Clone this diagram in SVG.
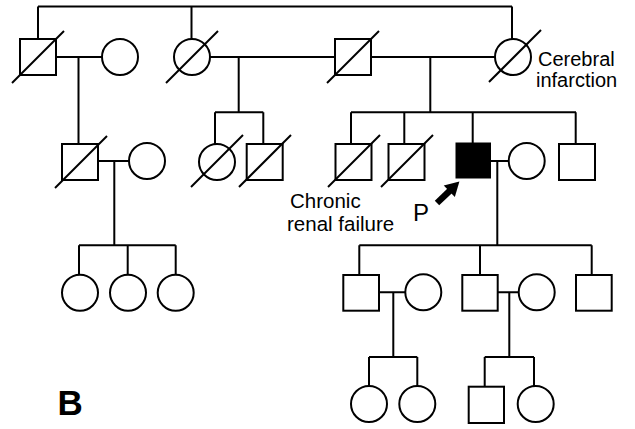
<svg xmlns="http://www.w3.org/2000/svg" width="635" height="429" viewBox="0 0 635 429">
<style>
.s{fill:#fff;stroke:#000;stroke-width:2}
.f{fill:#000;stroke:#000;stroke-width:2}
.l{fill:none;stroke:#000;stroke-width:2}
.t{font-family:"Liberation Sans",Arial,sans-serif;font-size:20.5px;fill:#000}
</style>
<defs>
<path id="dec" d="M-26,26 L26,-26" class="l"/>
</defs>
<g id="connectors">
<path class="l" d="M38,6.5 H512 M38,6.5 V39 M191.5,6.5 V39 M512,6.5 V39"/>
<path class="l" d="M56,57 H102 M78.5,57 V144"/>
<path class="l" d="M210,57 H335 M238.7,57 V112.3 M215,112.3 H263.3 M215,112.3 V144 M263.3,112.3 V144"/>
<path class="l" d="M371,57 H495 M430.3,57 V112.3 M351,112.3 H576 M351,112.3 V144 M404.3,112.3 V144 M472.7,112.3 V143 M575.7,112.3 V144"/>
<path class="l" d="M98,161 H129 M114.3,161 V245.3 M79,245.3 H175.7 M79,245.3 V275 M127.7,245.3 V275 M175.7,245.3 V275"/>
<path class="l" d="M490,161 H509 M497.3,161 V245.3 M359.3,245.3 H591.7 M359.3,245.3 V275 M480,245.3 V275 M591.7,245.3 V275"/>
<path class="l" d="M379,292.3 H405.3 M393.3,292.3 V357 M369,357 H417.3 M369,357 V386 M417.3,357 V386"/>
<path class="l" d="M497.7,292.3 H518.7 M509.3,292.3 V357 M484.7,357 H534 M484.7,357 V386.7 M534,357 V386"/>
</g>
<g id="I1"><rect class="s" x="20" y="39" width="36" height="36"/><use href="#dec" x="38" y="57"/></g>
<g id="I2"><circle class="s" cx="120" cy="57" r="18"/></g>
<g id="I3"><circle class="s" cx="192" cy="57" r="18"/><use href="#dec" x="192" y="57"/></g>
<g id="I4"><rect class="s" x="335" y="39" width="36" height="36"/><use href="#dec" x="353" y="57"/></g>
<g id="I5"><circle class="s" cx="513" cy="57" r="18"/><use href="#dec" x="515" y="56"/>
<text class="t" x="538" y="66" style="font-size:20px">Cerebral</text><text class="t" x="536" y="87" style="font-size:20px">infarction</text></g>
<g id="II1"><rect class="s" x="62" y="144" width="36" height="36"/><use href="#dec" x="81" y="162"/></g>
<g id="II2"><circle class="s" cx="147" cy="161" r="18"/></g>
<g id="II3"><circle class="s" cx="217" cy="162" r="18"/><use href="#dec" x="217" y="161"/></g>
<g id="II4"><rect class="s" x="246.7" y="144" width="36" height="36"/><use href="#dec" x="265" y="161"/></g>
<g id="II5"><rect class="s" x="335.5" y="144" width="36" height="36"/><use href="#dec" x="354" y="161"/>
<text class="t" x="290" y="207.5">Chronic</text><text class="t" x="287" y="230.5">renal failure</text></g>
<g id="II6"><rect class="s" x="388.5" y="144" width="36" height="36"/><use href="#dec" x="407" y="161"/></g>
<g id="II7"><rect class="f" x="456.5" y="143.5" width="33.5" height="34"/>
<g transform="translate(437,203) rotate(-43.7)"><rect x="0" y="-3.2" width="19" height="6.4" fill="#000"/><polygon points="17,-8 31,0 17,8" fill="#000"/></g>
<text class="t" x="413" y="220.7" style="font-size:24px">P</text></g>
<g id="II8"><circle class="s" cx="526.7" cy="161" r="18"/></g>
<g id="II9"><rect class="s" x="559" y="144" width="36" height="36"/></g>
<g id="III1"><circle class="s" cx="80" cy="292.7" r="18"/></g>
<g id="III2"><circle class="s" cx="128" cy="292.7" r="18"/></g>
<g id="III3"><circle class="s" cx="175.7" cy="292.7" r="18"/></g>
<g id="III4"><rect class="s" x="343.3" y="275" width="35.7" height="35.7"/></g>
<g id="III5"><circle class="s" cx="423.3" cy="292.3" r="18"/></g>
<g id="III6"><rect class="s" x="462.3" y="275" width="35.4" height="35.7"/></g>
<g id="III7"><circle class="s" cx="536.7" cy="292.3" r="18"/></g>
<g id="III8"><rect class="s" x="576" y="275" width="35.7" height="35.7"/></g>
<g id="IV1"><circle class="s" cx="369" cy="404" r="18"/></g>
<g id="IV2"><circle class="s" cx="417.3" cy="404" r="18"/></g>
<g id="IV3"><rect class="s" x="468.7" y="386.7" width="35.3" height="36.3"/></g>
<g id="IV4"><circle class="s" cx="535.7" cy="404" r="18"/></g>
<text x="57.5" y="415" style="font-family:'Liberation Sans',Arial,sans-serif;font-size:35px;font-weight:bold">B</text>
</svg>
